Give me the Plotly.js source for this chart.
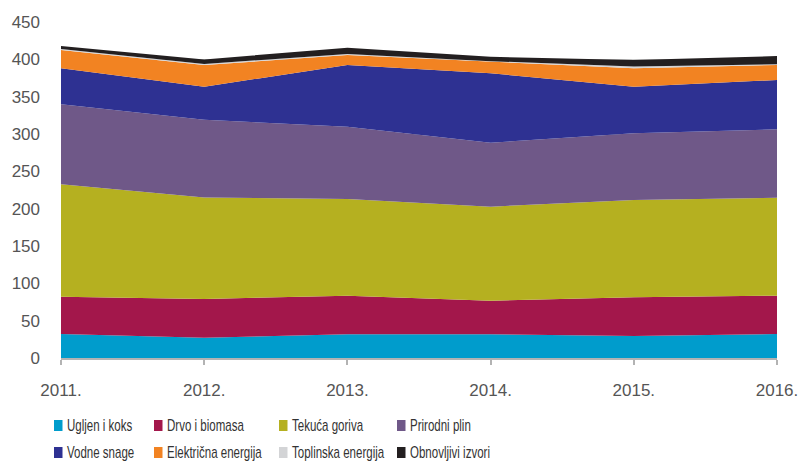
<!DOCTYPE html>
<html>
<head>
<meta charset="utf-8">
<script src="https://cdn.plot.ly/plotly-3.0.1.min.js"></script>
<style>html,body{margin:0;padding:0;background:#fff;}#chart{width:803px;height:462px;}</style>
</head>
<body>
<div id="chart"></div>
<script>
// ---- data ----
const years = [2011, 2012, 2013, 2014, 2015, 2016];
const yearLabels = ["2011.", "2012.", "2013.", "2014.", "2015.", "2016."];
const ugljen = [32, 27, 31.7, 31.7, 29.5, 32];
const drvo = [50, 52, 51.8, 45, 51.8, 51.5];
const tekuca = [150.6, 136, 129.5, 126, 130.3, 131.2];
const plin = [107.4, 104, 96.6, 85.7, 89.4, 91.6];
const vodne = [48, 44.4, 82.8, 92.9, 62.4, 66];
const elektricna = [24.5, 29, 13.4, 15.1, 24.6, 20.1];
const toplinska = [1.5, 1.5, 1.2, 1.1, 2.5, 1.1];
const obnovljivi = [4, 6, 8.6, 6, 8.5, 10.9];
const seriesNames = ["Ugljen i koks", "Drvo i biomasa", "Tekuća goriva", "Prirodni plin",
                     "Vodne snage", "Električna energija", "Toplinska energija", "Obnovljivi izvori"];
// ---- styles ----
const seriesColors = ["#009ccc", "#a3174b", "#b5b020", "#6f5888", "#2e3192", "#f28322", "#d3d4d6", "#231f20"];
const seriesData = [ugljen, drvo, tekuca, plin, vodne, elektricna, toplinska, obnovljivi];

const traces = seriesData.map((vals, i) => ({
  type: "scatter",
  mode: "lines",
  x: years,
  y: vals,
  name: seriesNames[i],
  stackgroup: "one",
  line: {width: 0, color: seriesColors[i]},
  fillcolor: seriesColors[i],
  showlegend: false
}));

// legend drawn as paper-positioned squares + text (pixel -> paper helpers)
const W = 803, H = 462, ML = 61, MR = 26, MT = 22, MB = 104;
const pw = W - ML - MR, ph = H - MT - MB;
const px = v => (v - ML) / pw;
const py = v => (H - MB - v) / ph;
const colSquareX = [54, 154, 279, 397];
const rowCenterY = [425.5, 452.5];
const shapes = [], annotations = [];
seriesNames.forEach((name, i) => {
  const col = i % 4, row = Math.floor(i / 4);
  const x0 = colSquareX[col], yc = rowCenterY[row];
  shapes.push({type: "rect", xref: "paper", yref: "paper",
    x0: px(x0), x1: px(x0 + 8.5), y0: py(yc + 5.5), y1: py(yc - 5.5),
    fillcolor: seriesColors[i], line: {width: 0}});
  annotations.push({xref: "paper", yref: "paper", x: px(x0 + 11), y: py(yc),
    xanchor: "left", yanchor: "middle", text: name, showarrow: false,
    font: {family: "Liberation Sans, Arial, sans-serif", size: 16, color: "#333333"}});
});

const layout = {
  width: W, height: H,
  margin: {l: ML, r: MR, t: MT, b: MB, pad: 0},
  paper_bgcolor: "#ffffff", plot_bgcolor: "#ffffff",
  font: {family: "Liberation Sans, Arial, sans-serif", size: 17, color: "#555555"},
  showlegend: false,
  xaxis: {
    type: "linear", range: [2011, 2016], tickvals: years, ticktext: yearLabels,
    showgrid: false, zeroline: false, showline: true, linecolor: "#b3b3b3", linewidth: 2,
    ticks: "outside", ticklen: 5, tickwidth: 2, tickcolor: "#b3b3b3",
    ticklabelstandoff: 11, tickfont: {size: 17, color: "#555555"}, fixedrange: true
  },
  yaxis: {
    range: [0, 450], dtick: 50, tick0: 0, showgrid: true, gridcolor: "#cccccc", gridwidth: 1,
    zeroline: false, showline: false, ticks: "", ticklabelstandoff: 20,
    tickfont: {size: 17, color: "#555555"}, fixedrange: true
  },
  shapes: shapes,
  annotations: annotations
};

Plotly.newPlot("chart", traces, layout, {displayModeBar: false, staticPlot: true}).then(() => {
  // condense legend text horizontally (the original uses a condensed typeface)
  document.querySelectorAll("#chart .annotation-text").forEach(t => {
    const bb = t.getBBox();
    t.setAttribute("transform", `translate(${bb.x},0) scale(0.72,1) translate(${-bb.x},0)`);
  });
});
</script>
</body>
</html>
